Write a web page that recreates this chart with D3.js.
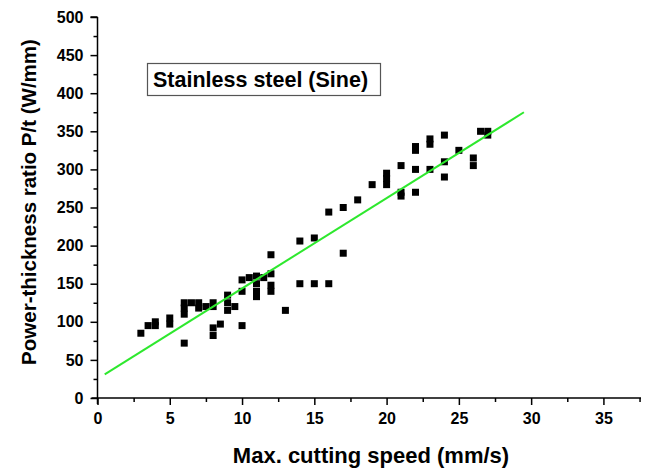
<!DOCTYPE html>
<html lang="en">
<head>
    <meta charset="UTF-8">
    <title></title>
    <script type="text/javascript" src="https://cdn.jsdelivr.net/npm/d3@7"></script>
    <style>
        body{
            margin: 0;
            background: #fff;
        }
        .axis path,
        .axis line{
            fill: none;
            stroke: #000;
            stroke-width: 1.5px;
        }
        .axis text{
            font-family: Arial, "Liberation Sans", sans-serif;
            font-size: 16px;
            font-weight: bold;
            fill: #000;
        }
        .lbl{
            font-family: Arial, "Liberation Sans", sans-serif;
            font-weight: bold;
            fill: #000;
        }
    </style>
</head>
<body>
<div id="app"></div>
<script type="text/javascript">
    // max cutting speed (mm/s)
    var speed = [3, 3.5, 4, 4, 5, 5, 6, 6, 6, 6, 6.5, 7, 7, 7.5, 8, 8, 8, 8, 8.5,
        9, 9, 9, 9.5, 10, 10, 10, 10.5, 11, 11, 11, 11, 11.5, 12, 12, 12, 12, 13,
        14, 14, 15, 15, 16, 16, 17, 17, 18, 19, 20, 20, 20, 21, 21, 21,
        22, 22, 22, 22, 23, 23, 23, 24, 24, 24, 25, 26, 26, 26.5, 27, 27];
    // power-thickness ratio P/t (W/mm)
    var ratio = [85, 95, 100, 95, 97, 105, 72, 110, 118, 125, 125, 118, 125, 120, 82, 92, 120, 125, 97,
        115, 125, 135, 120, 95, 140, 155, 158, 150, 160, 140, 133, 158, 188, 163, 148, 140, 115,
        206, 150, 210, 150, 244, 150, 250, 190, 260, 280, 295, 288, 280, 305, 270, 265,
        330, 325, 300, 270, 340, 333, 300, 345, 310, 290, 325, 315, 305, 350, 350, 345];
    // linear fit end points
    var fitX = [0.5, 29.5];
    var fitY = [31, 375];
    var xTicks = [0, 5, 10, 15, 20, 25, 30, 35];
    var yTicks = [0, 50, 100, 150, 200, 250, 300, 350, 400, 450, 500];

    var W = 646, H = 470;
    var svg = d3.select("#app").append("svg")
            .attr("width", W).attr("height", H);

    var x = d3.scaleLinear().domain([0, 37.6]).range([97.5, 641]);
    var y = d3.scaleLinear().domain([0, 500]).range([398, 17]);

    // minor ticks
    var xMinor = d3.range(2.5, 37.6, 5);
    var yMinor = d3.range(25, 500, 50);

    var gx = svg.append("g").attr("class", "axis")
            .attr("transform", "translate(0," + y(0) + ")")
            .call(d3.axisBottom(x).tickValues(xMinor).tickSize(4).tickFormat(""));
    gx.select(".domain").remove();
    var gx2 = svg.append("g").attr("class", "axis")
            .attr("transform", "translate(0," + y(0) + ")")
            .call(d3.axisBottom(x).tickValues(xTicks).tickSize(7).tickSizeOuter(0).tickPadding(8));
    gx2.select(".domain").attr("d", "M" + (x(0) - 6) + ",0H" + x(37.6));

    var gy = svg.append("g").attr("class", "axis")
            .attr("transform", "translate(" + x(0) + ",0)")
            .call(d3.axisLeft(y).tickValues(yMinor).tickSize(4).tickFormat(""));
    gy.select(".domain").remove();
    var gy2 = svg.append("g").attr("class", "axis")
            .attr("transform", "translate(" + x(0) + ",0)")
            .call(d3.axisLeft(y).tickValues(yTicks).tickSize(7).tickSizeOuter(0).tickPadding(7));
    gy2.select(".domain").attr("d", "M0," + (y(0) + 6) + "V" + y(500));
    // top cap of the y axis
    svg.append("line").attr("x1", x(0) - 7).attr("x2", x(0))
            .attr("y1", y(500)).attr("y2", y(500))
            .attr("stroke", "#000").attr("stroke-width", 1.5);

    // points
    var pts = speed.map(function(d, i){ return [d, ratio[i]]; });
    var s = 7;
    svg.append("g").selectAll("rect")
            .data(pts)
            .enter()
            .append("rect")
            .attr("x", function(d){ return x(d[0]) - s / 2; })
            .attr("y", function(d){ return y(d[1]) - s / 2; })
            .attr("width", s)
            .attr("height", s)
            .attr("fill", "#000");

    // fit line
    svg.append("line")
            .attr("x1", x(fitX[0])).attr("y1", y(fitY[0]))
            .attr("x2", x(fitX[1])).attr("y2", y(fitY[1]))
            .attr("stroke", "#2ee82e").attr("stroke-width", 2);

    // legend box
    svg.append("rect").attr("x", 147.5).attr("y", 63.5).attr("width", 233).attr("height", 32)
            .attr("fill", "#fff").attr("stroke", "#555").attr("stroke-width", 1.2);
    svg.append("text").attr("class", "lbl").attr("x", 153).attr("y", 87)
            .style("font-size", "21.5px")
            .text("Stainless steel (Sine)");

    // axis titles
    svg.append("text").attr("class", "lbl")
            .attr("x", 371).attr("y", 463)
            .style("font-size", "22px")
            .attr("text-anchor", "middle")
            .text("Max. cutting speed (mm/s)");
    svg.append("text").attr("class", "lbl")
            .attr("transform", "translate(36,202) rotate(-90)")
            .style("font-size", "20.5px")
            .attr("text-anchor", "middle")
            .text("Power-thickness ratio P/t (W/mm)");
</script>
</body>
</html>
